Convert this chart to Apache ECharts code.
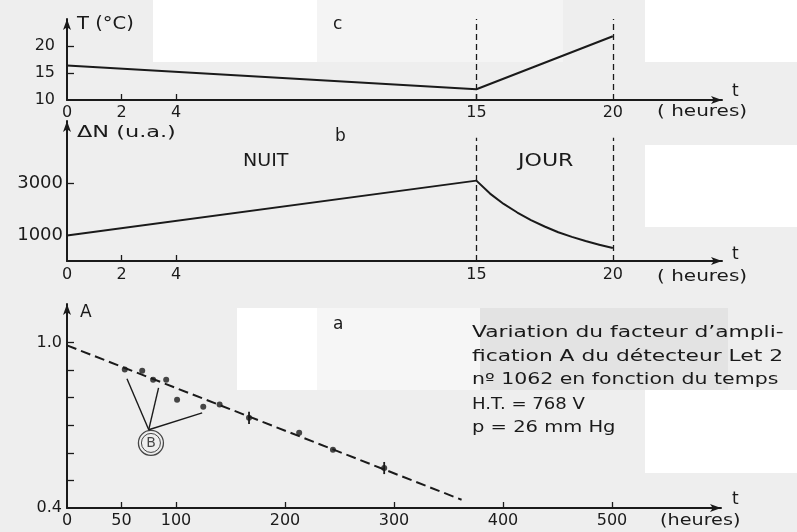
<!DOCTYPE html>
<html lang="fr">
<head>
<meta charset="UTF-8">
<script src="https://cdn.jsdelivr.net/npm/echarts@6/dist/echarts.min.js"></script>
<style>
  html, body { margin: 0; padding: 0; background: #eeeeee; }
  #main { width: 797px; height: 532px; }
</style>
</head>
<body>
<div id="main"></div>
<script>
// c : température T (°C) en fonction de l'heure
const tempHours = [0, 15, 20];
const tempValues = [16.4, 12.0, 21.8];

// b : ΔN (u.a.), nuit puis jour
const nightHours = [0, 15];
const nightDeltaN = [980, 3100];
const dayHours = [15, 15.5, 16, 16.5, 17, 17.5, 18, 18.5, 19, 19.5, 20];
const dayDeltaN = [3100, 2600, 2200, 1870, 1580, 1330, 1110, 930, 770, 630, 500];

// a : facteur d'amplification A en fonction du temps (heures)
const ampHours = [53, 69, 79, 91, 101, 125, 140, 167, 213, 244, 291];
const ampValues = [0.902, 0.898, 0.865, 0.865, 0.793, 0.767, 0.775, 0.727, 0.673, 0.611, 0.545];
const errHours = [167, 291];
const errLow = [0.705, 0.523];
const errHigh = [0.749, 0.567];
const fitHours = [0, 362];
const fitValues = [0.99, 0.43];
const bApex = [75, 0.684];
const bTargets = [[55, 0.869], [84, 0.836], [124, 0.745]];
const bCircle = [77, 0.636];

// graduations
const hourLabels = [0, 2, 4, 15, 20];
const tempLabels = [10, 15, 20];
const tempTicks = [15, 20];
const deltaNLabels = [1000, 3000];
const deltaNTicks = [3000];
const ampLabels = [0.4, 1.0];
const ampTicks = [0.5, 0.6, 0.7, 0.8, 0.9, 1.0];
const longHourLabels = [0, 50, 100, 200, 300, 400, 500];
const longHourTicks = [50, 100, 200, 300, 400, 500];

const ink = '#1a1a1a';
const font = 'DejaVu Sans';

function zip(xs, ys) { return xs.map((x, i) => [x, ys[i]]); }

function xAxisFor(gridIndex, max, labels, ticks, margin) {
  return {
    gridIndex: gridIndex, type: 'value', min: 0, max: max,
    splitLine: { show: false },
    axisLine: { lineStyle: { color: ink, width: 2 }, symbol: ['none', 'arrow'], symbolSize: [6, 11] },
    axisTick: { inside: true, length: 6, lineStyle: { color: ink, width: 1.3 }, customValues: ticks },
    axisLabel: { color: ink, fontFamily: font, fontSize: 16, margin: margin, customValues: labels,
      formatter: v => String(v) }
  };
}

function yAxisFor(gridIndex, min, max, labels, ticks, margin, size, fmt) {
  return {
    gridIndex: gridIndex, type: 'value', min: min, max: max,
    splitLine: { show: false },
    axisLine: { lineStyle: { color: ink, width: 2 }, symbol: ['none', 'arrow'], symbolSize: [6, 11] },
    axisTick: { inside: true, length: 7, lineStyle: { color: ink, width: 1.3 }, customValues: ticks },
    axisLabel: { color: ink, fontFamily: font, fontSize: size, margin: margin, customValues: labels,
      padding: [0, 0, 9, 0], formatter: fmt }
  };
}

const dashed = { color: ink, width: 1.3, type: [6, 4] };

function txt(x, y, s, size, sx) {
  return { type: 'text', x: x, y: y, scaleX: sx || 1, silent: true,
    style: { text: s, fill: ink, font: (size || 16) + 'px "' + font + '"', textVerticalAlign: 'middle' } };
}
function patch(x, y, w, h, c) {
  return { type: 'rect', shape: { x: x, y: y, width: w, height: h }, style: { fill: c }, silent: true, z: -10 };
}

const chart = echarts.init(document.getElementById('main'));
chart.setOption({
  backgroundColor: '#eeeeee',
  animation: false,
  grid: [
    { left: 67, top: 19, width: 655, height: 81, outerBoundsMode: 'none' },
    { left: 67, top: 121, width: 655, height: 140, outerBoundsMode: 'none' },
    { left: 67, top: 304, width: 654, height: 204, outerBoundsMode: 'none' }
  ],
  xAxis: [
    xAxisFor(0, 24, hourLabels, [2, 4, 15], 5),
    xAxisFor(1, 24, hourLabels, [2, 4], 6),
    xAxisFor(2, 600, longHourLabels, longHourTicks, 5)
  ],
  yAxis: [
    yAxisFor(0, 10, 25, tempLabels, tempTicks, 12, 16, v => String(v)),
    yAxisFor(1, 0, 5400, deltaNLabels, deltaNTicks, 4, 18, v => String(v)),
    yAxisFor(2, 0.4, 1.14, ampLabels, ampTicks, 5, 16, v => v.toFixed(1))
  ],
  series: [
    {
      type: 'line', xAxisIndex: 0, yAxisIndex: 0, data: zip(tempHours, tempValues),
      symbol: 'none', lineStyle: { color: ink, width: 2 },
      markLine: {
        silent: true, symbol: ['none', 'none'], label: { show: false }, lineStyle: dashed,
        data: [[{ coord: [15, 10] }, { coord: [15, 25] }], [{ coord: [20, 10] }, { coord: [20, 25] }]]
      }
    },
    {
      type: 'line', xAxisIndex: 1, yAxisIndex: 1, data: zip(nightHours, nightDeltaN),
      symbol: 'none', lineStyle: { color: ink, width: 2 },
      markLine: {
        silent: true, symbol: ['none', 'none'], label: { show: false }, lineStyle: dashed,
        data: [[{ coord: [15, 0] }, { coord: [15, 4750] }], [{ coord: [20, 0] }, { coord: [20, 4750] }]]
      }
    },
    {
      type: 'line', xAxisIndex: 1, yAxisIndex: 1, data: zip(dayHours, dayDeltaN),
      symbol: 'none', lineStyle: { color: ink, width: 2, join: 'round' }
    },
    {
      type: 'line', xAxisIndex: 2, yAxisIndex: 2, data: zip(fitHours, fitValues),
      symbol: 'none', lineStyle: { color: ink, width: 2, type: [10, 5] },
      markLine: {
        silent: true, symbol: ['none', 'none'], label: { show: false },
        lineStyle: { color: ink, width: 1.4, type: 'solid' },
        data: bTargets.map(t => [{ coord: bApex }, { coord: t }])
      }
    },
    {
      type: 'scatter', xAxisIndex: 2, yAxisIndex: 2, data: zip(ampHours, ampValues),
      symbol: 'circle', symbolSize: 6, itemStyle: { color: ink }
    },
    {
      type: 'custom', xAxisIndex: 2, yAxisIndex: 2,
      data: errHours.map((h, i) => [h, errLow[i], errHigh[i]]),
      renderItem: function (params, api) {
        const p1 = api.coord([api.value(0), api.value(1)]);
        const p2 = api.coord([api.value(0), api.value(2)]);
        return { type: 'line', shape: { x1: p1[0], y1: p1[1], x2: p2[0], y2: p2[1] },
          style: { stroke: ink, lineWidth: 1.8 } };
      }
    },
    {
      type: 'scatter', xAxisIndex: 2, yAxisIndex: 2, data: [bCircle],
      symbol: 'circle', symbolSize: 25,
      itemStyle: { color: 'rgba(0,0,0,0)', borderColor: ink, borderWidth: 1.3 },
      label: { show: true, position: 'inside', formatter: 'B', color: ink, fontFamily: font, fontSize: 14 }
    },
    {
      type: 'scatter', xAxisIndex: 2, yAxisIndex: 2, data: [bCircle],
      symbol: 'circle', symbolSize: 19,
      itemStyle: { color: 'rgba(0,0,0,0)', borderColor: ink, borderWidth: 1 }
    }
  ],
  graphic: [
    patch(153, 0, 164, 62, '#ffffff'),
    patch(317, 0, 246, 62, '#f4f4f4'),
    patch(645, 0, 152, 62, '#ffffff'),
    patch(645, 145, 152, 82, '#ffffff'),
    patch(237, 308, 80, 82, '#ffffff'),
    patch(317, 308, 163, 82, '#f6f6f6'),
    patch(480, 308, 248, 82, '#e3e3e3'),
    patch(645, 390, 152, 83, '#ffffff'),
    txt(77, 25, 'T (°C)', 17, 1.15),
    txt(333, 25, 'c', 17),
    txt(732, 92, 't', 17),
    txt(657, 112, '( heures)', 16, 1.25),
    txt(77, 133, 'ΔN (u.a.)', 16, 1.4),
    txt(335, 137, 'b', 17),
    txt(243, 162, 'NUIT', 17, 1.12),
    txt(518, 162, 'JOUR', 17, 1.3),
    txt(732, 255, 't', 17),
    txt(657, 277, '( heures)', 16, 1.25),
    txt(80, 313, 'A', 17),
    txt(333, 325, 'a', 17),
    txt(472, 333, 'Variation du facteur d\u2019ampli-', 16, 1.36),
    txt(472, 357, 'fication A du détecteur Let 2', 16, 1.36),
    txt(472, 380, 'n\u00ba 1062 en fonction du temps', 16, 1.28),
    txt(472, 405, 'H.T. = 768 V', 16, 1.13),
    txt(472, 428, 'p = 26 mm Hg', 16, 1.22),
    txt(732, 500, 't', 17),
    txt(660, 521, '(heures)', 16, 1.2)
  ]
});
</script>
</body>
</html>
